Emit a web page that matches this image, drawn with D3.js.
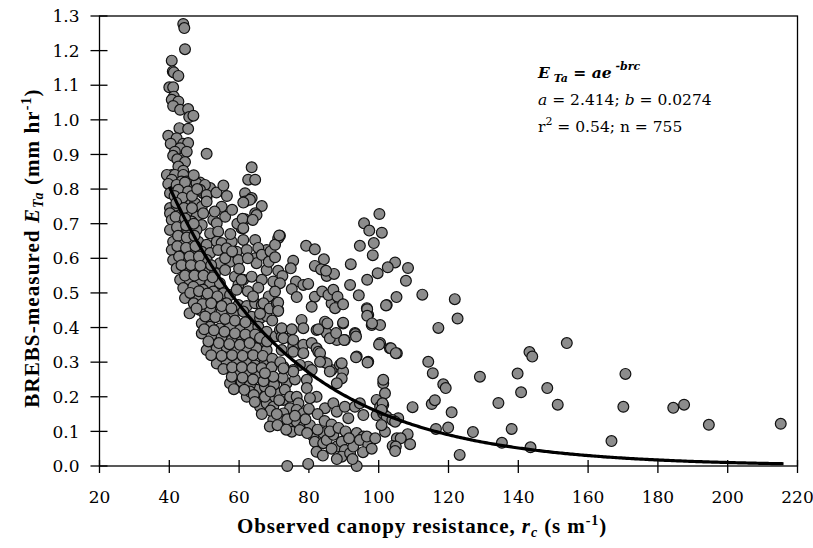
<!DOCTYPE html>
<meta charset="utf-8">
<style>
body {
  margin: 0;
  background: #fff;
}
.tick-label {
  font-family: "DejaVu Serif";
  font-size: 17px;
  fill: #000;
}
.axis-title {
  font-family: "Liberation Serif";
  font-weight: bold;
  font-size: 21px;
}
.note {
  font-family: "DejaVu Serif";
  font-size: 15.5px;
}
.point {
  fill: #8c8c8c;
  stroke: #111;
  stroke-width: 1.2;
}
</style>
<body>
<script src="https://cdn.jsdelivr.net/npm/d3@7"></script>
<script>

var width = 813,
    height = 548;

// fit E_Ta = a * exp(-b * rc)
var fitA = 2.414,
    fitB = 0.0274;

var xTicks = [20, 40, 60, 80, 100, 120, 140, 160, 180, 200, 220];
var yTicks = [0.0, 0.1, 0.2, 0.3, 0.4, 0.5, 0.6, 0.7, 0.8, 0.9, 1.0, 1.1, 1.2, 1.3];

// observed canopy resistance (s m-1), measured E_Ta (mm hr-1)
var obs = [
  // spike near rc = 40-47
  [44.0,1.277],[44.3,1.265],[44.5,1.204],[40.7,1.171],[41.0,1.140],[41.3,1.137],[42.6,1.127],[40.0,1.094],
  [41.1,1.094],[41.3,1.067],[40.7,1.058],[42.6,1.053],[41.1,1.040],[43.1,1.029],[45.4,1.031],[45.7,1.008],
  [46.9,1.012],[42.9,0.976],[45.4,0.974],[39.7,0.954],[42.1,0.947],[40.4,0.931],[44.0,0.931],[45.4,0.933],
  [43.1,0.918],[41.6,0.908],[45.0,0.908],[41.1,0.896],[42.3,0.886],[44.5,0.878],[42.6,0.865],[44.0,0.853],
  [40.7,0.841],[39.3,0.841],[41.6,0.841],[44.0,0.841],[40.7,0.827],[43.5,0.822],[45.0,0.822],[42.6,0.807],
  [45.4,0.803],[50.7,0.902],[48.8,0.819],[51.7,0.803],[49.7,0.788],[50.7,0.778],[61.7,0.788],[63.6,0.863],
  [62.6,0.827],[64.6,0.827],
  // dense band, upper part
  [39.7,0.815],[42.1,0.812],[44.5,0.819],[47.8,0.817],[50.2,0.812],[40.2,0.788],[42.6,0.798],[45.4,0.793],
  [48.8,0.798],[50.7,0.783],[61.7,0.764],[63.6,0.774],[66.5,0.751],[64.6,0.730],[61.7,0.713],[60.7,0.687],
  [56.0,0.720],[55.0,0.749],[40.2,0.745],[42.1,0.751],[45.0,0.769],[47.4,0.759],[49.3,0.749],[50.7,0.764],
  [40.2,0.730],[43.1,0.725],[45.4,0.735],[47.8,0.720],[49.7,0.730],[40.7,0.711],[43.5,0.701],[46.4,0.706],
  [49.3,0.696],[52.6,0.711],[53.6,0.701],[40.2,0.682],[43.1,0.687],[45.4,0.677],[47.8,0.682],[51.7,0.672],
  [54.0,0.677],[41.1,0.648],[43.5,0.653],[45.9,0.644],[48.3,0.648],[50.7,0.639],[53.6,0.648],[55.0,0.644],
  [57.9,0.648],[61.2,0.653],[64.6,0.653],[67.9,0.624],[40.7,0.624],[44.0,0.619],[46.9,0.624],[49.3,0.619],
  [51.7,0.615],[54.0,0.624],[56.4,0.629],[59.3,0.619],[62.2,0.624],[64.6,0.600],[65.0,0.586],[41.1,0.595],
  [44.5,0.600],[47.8,0.590],[50.7,0.595],[54.5,0.586],[57.4,0.590],[59.8,0.595],[42.1,0.571],[45.0,0.562],
  [47.4,0.566],[50.2,0.562],[53.1,0.557],[56.0,0.566],[58.8,0.547],[61.2,0.538],[63.6,0.547],[66.5,0.538],
  [67.9,0.566],[43.1,0.538],[45.9,0.533],[48.8,0.538],[51.7,0.528],[54.5,0.528],[59.8,0.523],[60.7,0.538],
  [44.0,0.514],[46.9,0.518],[49.7,0.509],[52.6,0.504],[55.5,0.499],[57.4,0.494],[59.3,0.509],[44.5,0.485],
  [48.3,0.490],[50.7,0.485],[53.6,0.475],[56.4,0.470],[59.8,0.465],[62.2,0.462],[64.6,0.470],[66.5,0.465],
  [45.8,0.441],[48.8,0.451],[51.7,0.455],[55.0,0.446],[58.3,0.441],[61.2,0.446],[63.6,0.431],[66.0,0.427],
  [67.9,0.433],[49.3,0.412],[51.7,0.402],[54.5,0.397],[57.4,0.402],[60.3,0.393],[63.1,0.397],[65.5,0.402],
  [67.9,0.388],[49.3,0.383],[52.1,0.378],[55.0,0.373],[57.9,0.364],[60.7,0.373],[63.6,0.368],[66.5,0.354],
  [50.7,0.335],[53.6,0.340],[56.4,0.344],[59.3,0.335],[62.2,0.344],[65.0,0.340],[67.9,0.335],[53.6,0.296],
  [56.4,0.301],[59.3,0.306],[62.2,0.301],[64.6,0.291],[67.4,0.301],[59.3,0.267],[62.2,0.272],[65.0,0.267],
  [67.9,0.267],
  [41.5,0.780],[43.8,0.775],[46.5,0.780],[42.0,0.760],[44.2,0.745],[41.8,0.720],[44.5,0.715],[42.2,0.690],
  [44.8,0.695],[42.5,0.665],[45.0,0.660],[47.2,0.665],[42.3,0.635],[44.8,0.630],[47.5,0.635],[42.8,0.605],
  [45.8,0.605],[48.5,0.605],[43.5,0.580],[46.2,0.580],[48.9,0.578],[52.0,0.580],[44.5,0.550],[47.2,0.550],
  [49.8,0.550],[52.4,0.545],[46.0,0.500],[48.5,0.505],[51.0,0.498],[53.8,0.490],[47.0,0.470],[49.5,0.468],
  [52.0,0.470],[55.0,0.462],[57.8,0.455],[47.8,0.455],[50.3,0.432],[53.2,0.430],[56.0,0.425],[58.8,0.420],
  [61.8,0.415],[50.0,0.395],[52.8,0.392],[55.8,0.388],[58.8,0.383],[61.8,0.380],[64.6,0.380],[51.2,0.360],
  [54.2,0.355],[57.2,0.352],[60.2,0.350],[63.0,0.355],[66.0,0.370],[52.0,0.320],[55.0,0.318],[58.0,0.320],
  [61.0,0.318],[64.0,0.320],[66.8,0.318],[69.5,0.310],[47.0,0.840],[48.0,0.800],[46.5,0.745],[47.0,0.700],
  [53.0,0.735],[56.5,0.780],[53.5,0.790],[55.5,0.810],[58.0,0.740],[59.5,0.700],[57.5,0.670],[56.0,0.600],
  [58.0,0.620],[60.0,0.570],[62.5,0.600],[65.5,0.630],[66.5,0.610],[68.5,0.590],[69.0,0.620],[62.5,0.505],
  [65.5,0.515],[68.5,0.490],[64.0,0.490],[67.0,0.470],[68.8,0.455],[66.0,0.440],[69.5,0.420],[70.5,0.375],
  [68.0,0.360],
  // band, lower part and scatter right of the curve
  [70.8,0.470],[71.2,0.451],[70.3,0.249],[71.7,0.393],[72.2,0.374],[74.6,0.369],[75.5,0.345],[75.5,0.330],
  [78.4,0.350],[80.8,0.355],[78.4,0.326],[82.2,0.340],[82.7,0.330],[84.1,0.301],[86.5,0.277],[88.9,0.292],
  [89.8,0.273],[89.4,0.253],[88.0,0.239],[79.8,0.287],[80.8,0.277],[77.4,0.292],[79.4,0.249],[72.7,0.287],
  [75.5,0.277],[68.8,0.273],[73.6,0.239],[79.4,0.225],[82.2,0.200],[80.3,0.196],[84.6,0.167],[87.0,0.181],
  [88.0,0.157],[90.3,0.171],[93.2,0.171],[94.6,0.181],[91.3,0.138],[93.7,0.095],[95.6,0.085],[95.6,0.147],
  [99.4,0.191],[100.4,0.171],[101.3,0.176],[99.4,0.147],[101.3,0.152],[102.3,0.142],[101.8,0.099],[104.7,0.056],
  [105.2,0.080],[101.3,0.239],[101.8,0.210],[105.6,0.138],[77.9,0.422],[78.4,0.398],[82.2,0.393],[84.6,0.417],
  [86.5,0.470],[88.9,0.470],[89.8,0.412],[87.5,0.456],[85.1,0.384],[88.0,0.364],[90.3,0.364],[93.2,0.384],
  [96.6,0.456],[97.0,0.436],[98.0,0.407],[100.4,0.407],[102.3,0.465],[93.7,0.316],[97.0,0.301],[100.4,0.355],
  [103.2,0.340],[105.2,0.326],[60.3,0.234],[62.2,0.200],[65.0,0.220],[67.4,0.229],[66.9,0.191],[69.3,0.200],
  [71.2,0.210],[73.1,0.220],[66.0,0.171],[67.9,0.181],[69.8,0.171],[72.7,0.191],[74.6,0.200],[76.5,0.200],
  [77.0,0.181],[74.6,0.167],[72.7,0.152],[76.5,0.162],[78.4,0.152],[69.8,0.133],[68.8,0.114],[72.2,0.133],
  [74.6,0.118],[76.5,0.128],[78.4,0.114],[80.3,0.118],[75.1,0.099],[77.4,0.104],[81.3,0.085],[84.1,0.095],
  [81.7,0.070],[84.1,0.066],[82.2,0.041],[85.1,0.075],[87.0,0.090],[88.0,0.056],[89.4,0.070],[90.3,0.046],
  [89.4,0.027],[91.8,0.037],[93.7,0.000],[92.7,0.056],[94.6,0.075],[97.0,0.061],[96.6,0.085],[57.4,0.239],
  [57.9,0.258],[60.7,0.244],[63.1,0.234],[63.1,0.215],[67.4,0.200],[73.8,0.000],[79.8,0.006],
  [55.5,0.280],[58.0,0.285],[60.8,0.285],[63.8,0.283],[66.5,0.283],[69.3,0.285],[71.8,0.300],[61.0,0.255],
  [64.0,0.250],[67.0,0.245],[70.0,0.235],[72.5,0.255],[76.0,0.250],[58.5,0.222],[61.5,0.220],[64.2,0.205],
  [69.0,0.215],[71.5,0.190],[64.5,0.185],[69.0,0.160],[70.8,0.150],[73.8,0.135],[66.5,0.150],[71.0,0.118],
  [73.5,0.105],[76.0,0.145],[79.0,0.135],[80.0,0.165],[82.5,0.150],[84.5,0.130],[86.5,0.120],[79.5,0.095],
  [82.5,0.105],[86.0,0.100],[88.5,0.110],[90.5,0.100],[91.5,0.080],[86.5,0.050],[84.0,0.030],[88.0,0.020],
  [92.5,0.020],[95.5,0.040],[98.0,0.050],[99.0,0.080],
  // upper-middle scatter
  [100.2,0.728],[95.8,0.701],[97.3,0.680],[100.9,0.674],[98.6,0.644],[94.6,0.636],[98.3,0.609],[92.0,0.583],
  [104.7,0.588],[102.6,0.574],[108.4,0.572],[99.7,0.557],[96.7,0.538],[107.8,0.535],[91.8,0.523],[94.3,0.493],
  [105.1,0.488],[112.5,0.495],[121.8,0.482],[102.1,0.464],[96.7,0.453],[96.7,0.434],[98.1,0.412],[122.6,0.426],
  [117.1,0.399],[89.8,0.414],[85.3,0.412],[93.3,0.381],[93.5,0.374],[100.1,0.351],[103.5,0.340],[104.9,0.326],
  [93.5,0.314],[96.8,0.299],[114.2,0.301],[115.5,0.268],[71.7,0.665],[71.2,0.658],[70.3,0.639],[70.3,0.603],
  [79.2,0.636],[81.7,0.626],[84.3,0.597],[81.7,0.578],[83.5,0.568],[85.1,0.549],[87.2,0.555],[84.9,0.564],
  [75.5,0.593],[74.8,0.571],[71.2,0.564],[72.4,0.549],[76.3,0.533],[78.4,0.523],[79.8,0.526],[75.1,0.511],
  [76.5,0.488],[81.7,0.489],[83.8,0.504],[85.6,0.494],[87.0,0.509],[88.2,0.489],[89.8,0.467],[80.8,0.460],
  [69.8,0.533],[71.7,0.528],[70.3,0.504],[71.2,0.472],[71.2,0.448],[72.2,0.398],[75.1,0.395],[72.7,0.369],
  [75.5,0.364],[82.7,0.395],[86.0,0.369],[87.8,0.384],[90.1,0.364],[83.2,0.326],[72.2,0.335],[85.1,0.297],
  [89.4,0.297],[83.2,0.301],[75.5,0.273],[72.7,0.282],[69.8,0.258],[67.4,0.268],[86.0,0.273],[101.3,0.249],
  [63.1,0.769],[61.2,0.761],[61.0,0.714],[65.0,0.725],[63.9,0.711],[61.2,0.687],[71.5,0.666],
  // long tail
  [129.0,0.258],[118.5,0.236],[119.2,0.225],[101.1,0.181],[100.8,0.162],[115.2,0.179],[116.1,0.190],[109.7,0.170],
  [120.9,0.155],[103.9,0.133],[104.7,0.128],[100.8,0.118],[108.3,0.092],[106.3,0.080],[109.0,0.063],[104.0,0.058],
  [104.9,0.056],[104.7,0.043],[116.4,0.107],[119.9,0.111],[123.2,0.032],[127.0,0.098],[134.3,0.182],[135.3,0.067],
  [138.1,0.107],[139.8,0.267],[140.8,0.213],[143.2,0.329],[144.0,0.316],[143.5,0.054],[148.3,0.225],[151.3,0.177],
  [153.9,0.355],[166.7,0.072],[170.1,0.171],[170.7,0.266],[184.4,0.168],[187.5,0.177],[194.6,0.119],[215.2,0.122]
];

var margin = {left: 99.5, right: 797.5, top: 16, bottom: 466};

var x = d3.scaleLinear().domain([20, 220]).range([margin.left, margin.right]);
var y = d3.scaleLinear().domain([0, 1.3]).range([margin.bottom, margin.top]);

var svg = d3.select("body").append("svg")
    .attr("width", width)
    .attr("height", height);

// frame
svg.append("rect")
    .attr("x", margin.left)
    .attr("y", margin.top)
    .attr("width", margin.right - margin.left)
    .attr("height", margin.bottom - margin.top)
    .attr("fill", "none")
    .attr("stroke", "#000")
    .attr("stroke-width", 1.3);

// y ticks (cross the axis)
svg.selectAll(".ytick")
    .data(yTicks)
  .enter().append("line")
    .attr("x1", margin.left - 9)
    .attr("x2", margin.left + 8)
    .attr("y1", function(d) { return y(d); })
    .attr("y2", function(d) { return y(d); })
    .attr("stroke", "#000")
    .attr("stroke-width", 1.3);

svg.selectAll(".ylab")
    .data(yTicks)
  .enter().append("text")
    .attr("class", "tick-label")
    .attr("x", margin.left - 20)
    .attr("y", function(d) { return y(d); })
    .attr("dy", "0.36em")
    .attr("text-anchor", "end")
    .text(function(d) { return d.toFixed(1); });

// x ticks
svg.selectAll(".xtick")
    .data(xTicks)
  .enter().append("line")
    .attr("x1", function(d) { return x(d); })
    .attr("x2", function(d) { return x(d); })
    .attr("y1", margin.bottom - 6)
    .attr("y2", margin.bottom + 7)
    .attr("stroke", "#000")
    .attr("stroke-width", 1.3);

svg.selectAll(".xlab")
    .data(xTicks)
  .enter().append("text")
    .attr("class", "tick-label")
    .attr("x", function(d) { return x(d); })
    .attr("y", 503)
    .attr("text-anchor", "middle")
    .text(function(d) { return d; });

// points
svg.append("g").selectAll(".point")
    .data(obs)
  .enter().append("circle")
    .attr("class", "point")
    .attr("cx", function(d) { return x(d[0]); })
    .attr("cy", function(d) { return y(d[1]); })
    .attr("r", 5.4);

// fitted curve
var fitRc = d3.range(40, 216.5, 0.5);
var line = d3.line()
    .x(function(d) { return x(d); })
    .y(function(d) { return y(fitA * Math.exp(-fitB * d)); });

svg.append("path")
    .datum(fitRc)
    .attr("d", line)
    .attr("fill", "none")
    .attr("stroke", "#000")
    .attr("stroke-width", 3.2);

// x title
var xt = svg.append("text")
    .attr("class", "axis-title")
    .attr("x", 422)
    .attr("y", 533)
    .attr("letter-spacing", "0.9px")
    .attr("text-anchor", "middle");
xt.append("tspan").text("Observed canopy resistance, ");
xt.append("tspan").attr("font-style", "italic").text("r");
xt.append("tspan").attr("font-style", "italic").attr("font-size", "14px").attr("dy", 4).text("c");
xt.append("tspan").attr("dy", -4).text(" (s m");
xt.append("tspan").attr("font-size", "14px").attr("dy", -8).text("-1");
xt.append("tspan").attr("dy", 8).text(")");

// y title
var yt = svg.append("text")
    .attr("class", "axis-title")
    .attr("transform", "translate(39,248) rotate(-90)")
    .attr("letter-spacing", "1.1px")
    .attr("text-anchor", "middle");
yt.append("tspan").text("BREBS-measured ");
yt.append("tspan").attr("font-style", "italic").text("E");
yt.append("tspan").attr("font-style", "italic").attr("font-size", "14px").attr("dy", 4).text("Ta");
yt.append("tspan").attr("dy", -4).text(" (mm hr");
yt.append("tspan").attr("font-size", "14px").attr("dy", -8).text("-1");
yt.append("tspan").attr("dy", 8).text(")");

// fit annotation
var n1 = svg.append("text")
    .attr("class", "note")
    .attr("x", 538)
    .attr("y", 78)
    .attr("font-weight", "bold")
    .attr("font-style", "italic");
n1.append("tspan").text("E");
n1.append("tspan").attr("font-size", "11px").attr("dy", 4).text(" Ta");
n1.append("tspan").attr("dy", -4).text(" = ae");
n1.append("tspan").attr("font-size", "11px").attr("dy", -8).text(" -brc");

var n2 = svg.append("text")
    .attr("class", "note")
    .attr("x", 538)
    .attr("y", 105);
n2.append("tspan").attr("font-style", "italic").text("a");
n2.append("tspan").text(" = 2.414; ");
n2.append("tspan").attr("font-style", "italic").text("b");
n2.append("tspan").text(" = 0.0274");

var n3 = svg.append("text")
    .attr("class", "note")
    .attr("x", 538)
    .attr("y", 132);
n3.append("tspan").text("r");
n3.append("tspan").attr("font-size", "11px").attr("dy", -7).text("2");
n3.append("tspan").attr("dy", 7).text(" = 0.54; n = 755");

</script>
